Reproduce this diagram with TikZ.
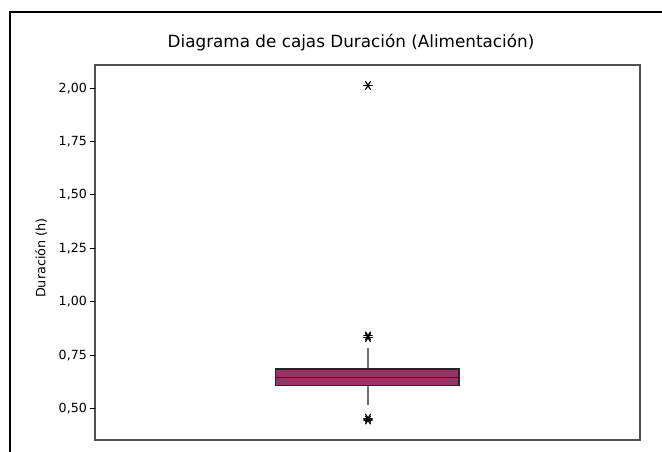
\documentclass[tikz,border=0pt]{standalone}
\usepackage{fontspec}
\setmainfont{DejaVu Sans}
\definecolor{boxfill}{HTML}{993366}
\definecolor{axisgray}{HTML}{505050}
\definecolor{whiskgray}{HTML}{707070}
\tikzset{
  ticklab/.style={anchor=east, inner sep=0pt, font=\fontsize{12.6}{14}\selectfont},
  star/.pic={
    \draw[line width=1.2pt, line cap=round] (-4.2,0) -- (4.2,0);
    \draw[line width=1.2pt, line cap=round] (-2.4,-3.9) -- (2.4,3.9);
    \draw[line width=1.2pt, line cap=round] (-2.4,3.9) -- (2.4,-3.9);
  },
}
\begin{document}
\begin{tikzpicture}[x=1pt,y=-1pt]
\useasboundingbox (0,0) rectangle (662,451);
% outer frame
\draw[line width=2.6pt, line cap=rect] (10,451) -- (10,12) -- (662,12);
% title
\node[font=\fontsize{16.8}{19}\selectfont, inner sep=0pt] (title) at (351,43) {Diagrama de cajas Duración (Alimentación)};
% plot area
\draw[axisgray, line width=1.3pt] (95,65) rectangle (640,440);
% ticks and labels
\foreach \v/\lab [count=\i] in {0/{0,50},1/{0,75},2/{1,00},3/{1,25},4/{1,50},5/{1,75},6/{2,00}}{
  \pgfmathsetmacro{\yy}{408.5-53.4*\v}
  \draw[black, line width=0.9pt] (89.5,\yy) -- (95,\yy);
  \node[ticklab] (t\i) at (87,\yy) {\lab};
}
% y label
\node[rotate=90, inner sep=0pt, font=\fontsize{12.8}{14}\selectfont] (ylab) at (41,258) {Duración (h)};
% whiskers
\coordinate (wt) at (368,348.3);
\coordinate (wb) at (368,405);
\coordinate (q3) at (368,369);
\coordinate (q1) at (368,385.3);
\draw[whiskgray, line width=1.4pt] (wt) -- (q3);
\draw[whiskgray, line width=1.4pt] (q1) -- (wb);
% box
\draw[fill=boxfill, draw=black!85, line width=1.1pt] (275.7,369) rectangle (459,385.3);
\draw[black!85, line width=1.1pt] (275.7,377.3) -- (459,377.3);
% outliers
\pic at (368,85.5) {star};
\pic at (368,335.8) {star};
\pic at (368,337.6) {star};
\pic at (368,418.2) {star};
\pic at (368,420) {star};
\end{tikzpicture}
\end{document}
